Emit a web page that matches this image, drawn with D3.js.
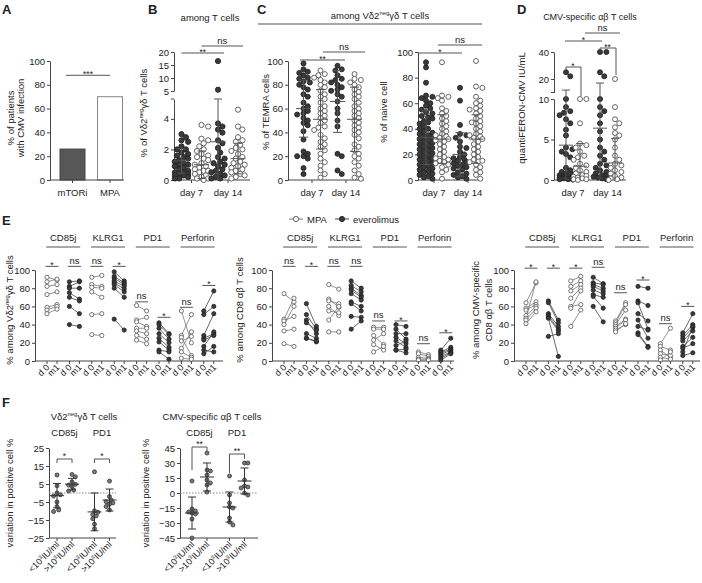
<!DOCTYPE html>
<html><head><meta charset="utf-8">
<script src="https://cdn.jsdelivr.net/npm/d3@7"></script>
<style>body{margin:0;background:#fff}</style>
</head><body>
<script>
// ================= DATA =================
// Panel A
const aCategories = ["mTORi", "MPA"];
const aValues = [26, 70];
const aTicks = [0, 20, 40, 60, 80, 100];

// Panel B (% of Vd2neg gd T cells among T cells)
const dayLabels = ["day 7", "day 14"];
const bEveroD7 = [3.0,2.8,2.6,2.5,2.2,2.0,2.0,1.8,1.7,1.6,1.5,1.4,1.3,1.2,1.1,1.0,1.0,0.9,0.8,0.7,0.6,0.5,0.5,0.4,0.4,0.3,0.3,0.2,0.1,0.1];
const bMpaD7 = [3.6,3.5,2.7,2.6,2.4,2.2,2.0,1.9,1.7,1.6,1.5,1.4,1.3,1.1,1.0,0.9,0.8,0.7,0.6,0.6,0.5,0.4,0.3,0.2,0.1,0.1,0.0];
const bEveroD14 = [16.5,5.5,3.7,3.5,3.3,3.1,2.6,2.4,2.1,1.8,1.5,1.4,1.2,1.1,1.0,0.9,0.7,0.6,0.5,0.4,0.3,0.2,0.1,0.1];
const bMpaD14 = [4.6,3.5,3.3,2.8,2.6,2.5,2.3,2.1,2.0,1.9,1.7,1.5,1.4,1.2,1.1,1.0,0.9,0.8,0.7,0.6,0.5,0.4,0.3,0.2,0.1];
const bMean = [1.25, 1.0, 2.5, 1.4];
const bSd = [0.8, 0.9, 2.8, 1.0];
const bTicksLow = [0, 2, 4];
const bTicksHigh = [5, 10, 15, 20];

// Panel C (TEMRA / naive among Vd2neg gd T cells)
const cTemraEveroD7 = [98,93,91,90,88,86,85,83,82,80,78,76,72,70,65,62,60,58,56,55,52,50,48,46,41,34,24,22,20,20,18,10,5];
const cTemraMpaD7 = [92,89,88,86,84,82,80,78,75,72,70,68,65,62,60,58,56,54,52,50,48,45,44,42,38,35,32,30,28,25,22,18,15,12,8,5,2];
const cTemraEveroD14 = [96,93,92,88,85,84,82,80,78,76,75,72,70,66,60,56,50,45,22,20,8,5];
const cTemraMpaD14 = [89,85,84,82,80,78,76,74,72,70,68,65,62,60,58,56,54,52,50,48,46,44,42,40,38,35,30,28,25,22,20,18,15,12,8,5,2,1];
const cTemraMean = [60, 51, 66, 51];
const cTemraSd = [24, 25, 26, 27];
const cNaiveEveroD7 = [92,88,76,66,65,64,62,60,58,56,55,53,52,50,49,48,46,45,44,42,40,40,38,37,36,35,34,33,32,31,30,29,28,27,26,25,24,23,22,21,20,19,18,17,16,15,14,13,12,11,10,9,8,7,6,5,4,3,2,1];
const cNaiveMpaD7 = [92,66,65,64,62,56,54,52,50,48,46,44,42,40,38,36,35,34,33,32,31,30,28,26,24,22,20,18,17,16,15,14,13,12,10,8,6,1];
const cNaiveEveroD14 = [72,62,43,36,35,33,30,26,25,22,20,18,17,16,15,14,13,12,11,10,9,8,6,5,4,3,2,1];
const cNaiveMpaD14 = [93,73,72,65,62,60,58,56,55,54,52,50,48,46,45,44,42,40,38,36,35,34,33,32,30,28,26,24,22,20,18,16,15,14,12,10,8,6,4,1];
const cNaiveMean = [33, 32, 20, 32];
const cNaiveSd = [21, 19, 17, 19];
const pctTicks = [0, 20, 40, 60, 80, 100];

// Panel D (quantiFERON-CMV IU/mL)
const dEveroD7 = [25,22,10,9,8.5,8.3,8,7.5,7,6.2,5.5,4,3.8,3.5,3.2,2.8,1.5,1.2,1.0,0.8,0.7,0.6,0.5,0.4,0.3,0.3,0.2,0.2,0.1,0.1,0.1];
const dMpaD7 = [10,10,7,4.5,4.3,4,3.5,3,2.8,2.5,2,1.8,1.5,1.2,1.0,0.8,0.6,0.5,0.4,0.3,0.2,0.1,0.1,0.0];
const dEveroD14 = [40,40,25,22,10,9,8.5,8,7,6,5,4,3.5,3,2.5,2,1.8,1.5,1.2,1.0,0.8,0.6,0.5,0.4,0.3,0.2,0.1];
const dMpaD14 = [20,9,7.5,7,6.5,5.8,5.5,5,4,3,2.5,2,1.8,1.5,1.2,1.0,0.8,0.5,0.3,0.2,0.1,0.0];
const dMean = [4.3, 1.7, 6.4, 2.1];
const dSd = [7.5, 2.8, 10.6, 3.0];
const dTicksLow = [0, 5, 10];
const dTicksHigh = [20, 40];

// Panel E (paired d0 -> m1), pairs alternate MPA / everolimus
const markers = ["CD85j", "KLRG1", "PD1", "Perforin"];
const timeLabels = ["d 0", "m1"];
const eVd2D0 = [[92,87,82,73,59,56,52],[87,82,80,75,70,60,40],[92,84,81,76,51,29],[98,93,91,88,86,84,80,46],[61,45,43,36,33,28,23],[42,40,36,30,25,21,12,10],[55,28,26,22,14,10,3],[55,51,28,25,23,16,12,8]];
const eVd2M1 = [[89,90,84,76,62,60,57],[88,87,80,68,66,52,38],[94,82,80,70,52,28],[88,86,84,82,79,76,70,34],[55,48,38,36,30,24,19],[30,29,24,20,15,12,10,2],[20,51,6,27,32,4,2],[77,60,52,30,28,32,10,16]];
const eCd8D0 = [[74,46,44,40,33,19],[63,51,45,42,30,25,25],[84,68,66,60,55,45,32],[88,83,80,78,74,65,63,49,35],[37,35,28,23,18,10],[40,35,30,26,22,17,12,12],[10,8,4,2,1],[12,10,9,7,5,3,1]];
const eCd8M1 = [[65,69,49,60,35,16],[38,35,30,34,25,21,22],[79,59,63,50,53,60,32],[80,76,72,70,67,60,55,48,44],[37,35,18,30,12,16],[38,24,30,19,15,22,13,9],[7,5,3,2,1],[25,15,13,12,10,9,8]];
const eCmvD0 = [[64,58,56,50,47,45,41],[66,64,52,50,48,47,27],[88,82,77,69,60,58,38],[92,86,84,82,78,73,71,60],[44,42,40,38,36,34,32],[82,66,64,52,45,38,31,29],[19,16,12,8,4,1],[31,28,25,22,16,14,10,6]];
const eCmvM1 = [[86,65,62,60,87,58,54],[45,42,38,35,33,5,30],[93,88,84,80,62,77,56],[85,84,80,77,74,70,58,43],[64,62,56,46,45,40,41],[80,61,35,44,25,34,16,15],[36,12,4,6,2,10],[52,40,37,33,26,19,38,9]];
const eVd2Sig = ["*","ns","ns","*","ns","*","ns","*"];
const eCd8Sig = ["ns","*","ns","ns","ns","*","ns","*"];
const eCmvSig = ["*","*","*","ns","ns","*","ns","*"];
const eVd2SigLevel = [104,104,104,104,65,48,59,83];
const eCd8SigLevel = [104,104,104,104,44,44,19,31];
const eCmvSigLevel = [102,102,102,103,75,89,41,60];

// Panel F (variation in positive cell %)
const fMarkers = ["CD85j", "PD1"];
const fGroupLabels = ["<10", ">10", "<10", ">10"];
const fVd2Values = [[10,4,0,-1,-1.7,-5,-7.5,-9.4,-10.3],[10.3,9,6.2,4.8,4.4,3.5,1.6,1.1],[11.8,-9.9,-10.7,-12,-12.7,-14.3,-17.3,-19.8],[6.6,-2,-3.9,-4.8,-5.5,-6.2,-7.5,-9.4]];
const fVd2Mean = [-1.5, 4.9, -10.5, -3.9];
const fVd2Sd = [6.8, 3.2, 10.5, 6.1];
const fVd2Ticks = [-25, -15, -5, 5, 15, 25];
const fCmvValues = [[12,-16,-18,-19,-20,-21,-26,-45],[40,23,22,18,13,10,8,1],[17,-2,-10,-14,-15,-25,-29,-32],[30,30,13,7,6,5,0,-2]];
const fCmvMean = [-20, 16, -14, 12];
const fCmvSd = [16, 14, 15, 13];
const fCmvTicks = [-45, -30, -15, 0, 15, 30, 45];

// ================= DRAWING =================
const FONT = '"Liberation Sans", Arial, Helvetica, sans-serif';
const AX = "#444", TXT = "#222", FILL = "#3a3a3a", OPEN = "#555", ERR = "#555";
const svg = d3.select("body").append("svg").attr("width", 702).attr("height", 583)
  .attr("font-family", FONT);

function label(x, y, parts, o = {}) {
  const fs = o.fs || 9.5;
  const t = svg.append("text").attr("x", x).attr("y", y).attr("font-size", fs)
    .attr("text-anchor", o.anchor || "middle").attr("fill", o.fill || TXT);
  if (o.weight) t.attr("font-weight", o.weight);
  if (o.rot != null) t.attr("transform", `rotate(${o.rot},${x},${y})`);
  if (!Array.isArray(parts)) parts = [parts];
  let sup = false;
  parts.forEach(p => {
    const isSup = typeof p === "object";
    const s = isSup ? p.t : p;
    const ts = t.append("tspan").text(s);
    if (isSup) { ts.attr("font-size", fs * 0.62); if (!sup) ts.attr("dy", -fs * 0.38); }
    else if (sup) ts.attr("dy", fs * 0.38);
    sup = isSup;
  });
  return t;
}
function line(x1, y1, x2, y2, col = AX, w = 1, dash = null) {
  const l = svg.append("line").attr("x1", x1).attr("y1", y1).attr("x2", x2).attr("y2", y2)
    .attr("stroke", col).attr("stroke-width", w);
  if (dash) l.attr("stroke-dasharray", dash);
  return l;
}
function yAxis(x, scale, ticks, fmt) {
  const g = svg.append("g").attr("transform", `translate(${x},0)`)
    .call(d3.axisLeft(scale).tickValues(ticks).tickSize(3).tickSizeOuter(0).tickPadding(2)
      .tickFormat(fmt || d3.format("")));
  g.attr("font-family", FONT).attr("font-size", 9.5);
  g.selectAll(".domain,.tick line").attr("stroke", AX).attr("stroke-width", 1);
  g.selectAll(".tick text").attr("fill", TXT);
  return g;
}
function swarm(vals, yf, r, maxOff) {
  const pts = vals.map((v, i) => ({ v, y: yf(v), i })).sort((a, b) => a.y - b.y);
  const placed = [];
  const step = r * 0.85;
  const cands = [0];
  for (let k = 1; k * step <= maxOff; k++) cands.push(k * step, -k * step);
  for (const p of pts) {
    let best = 0, bestOv = Infinity;
    for (const c of cands) {
      let ov = 0;
      for (const q of placed) {
        const d = Math.hypot(c - q.x, p.y - q.y);
        if (d < 2 * r * 0.95) ov += 2 * r - d;
      }
      if (ov === 0) { best = c; bestOv = 0; break; }
      if (ov < bestOv) { bestOv = ov; best = c; }
    }
    p.x = best; placed.push(p);
  }
  return pts;
}
function dots(vals, cx, yf, r, maxOff, filled) {
  const pts = swarm(vals, yf, r, maxOff);
  svg.append("g").selectAll("circle").data(pts).join("circle")
    .attr("cx", d => cx + d.x).attr("cy", d => d.y).attr("r", r)
    .attr("fill", filled ? FILL : "#fff").attr("stroke", filled ? "#222" : OPEN).attr("stroke-width", 0.9);
}
function meanSd(cx, mean, sd, yf, wm, wc, floor, col = ERR) {
  const lo = Math.max(floor, mean - sd), hi = mean + sd;
  line(cx, yf(lo), cx, yf(hi), col, 1);
  line(cx - wc / 2, yf(hi), cx + wc / 2, yf(hi), col, 1);
  if (mean - sd > floor) line(cx - wc / 2, yf(lo), cx + wc / 2, yf(lo), col, 1);
  line(cx - wm / 2, yf(mean), cx + wm / 2, yf(mean), col, 1);
}
function sig(x1, x2, y, lab) {
  line(x1, y, x2, y, "#555", 1);
  const star = lab.includes("*");
  label((x1 + x2) / 2, star ? y + 1.8 : y - 2.5, lab, { fs: star ? 8.5 : 9.5 });
}
function xCatAxis(x0, x1, y, xs, cats, labY) {
  line(x0, y, x1, y, AX, 1);
  cats.forEach(c => { line(xs(c), y, xs(c), y + 3, AX, 1); label(xs(c), labY, c); });
}
const VD2 = ["Vδ2", { t: "neg" }, "γδ T cells"];

// ---------- Panel letters ----------
label(2, 14, "A", { fs: 13, weight: "bold", anchor: "start" });
label(148, 14, "B", { fs: 13, weight: "bold", anchor: "start" });
label(257, 14, "C", { fs: 13, weight: "bold", anchor: "start" });
label(517, 14, "D", { fs: 13, weight: "bold", anchor: "start" });
label(2, 225, "E", { fs: 13, weight: "bold", anchor: "start" });
label(2, 407, "F", { fs: 13, weight: "bold", anchor: "start" });

// ---------- Panel A ----------
{
  const y = d3.scaleLinear().domain([0, 100]).range([180, 61]);
  const x = d3.scaleBand().domain(aCategories).range([50, 132.5]).paddingInner(1 / 3).paddingOuter(0.267);
  svg.append("g").selectAll("rect").data(aCategories).join("rect")
    .attr("x", d => x(d)).attr("width", x.bandwidth())
    .attr("y", (d, i) => y(aValues[i])).attr("height", (d, i) => y(0) - y(aValues[i]))
    .attr("fill", (d, i) => i === 0 ? "#575757" : "#fff")
    .attr("stroke", (d, i) => i === 0 ? "#444" : "#888").attr("stroke-width", 1);
  yAxis(50, y, aTicks);
  line(50, 180, 124, 180, AX, 1);
  aCategories.forEach(c => {
    const cx = x(c) + x.bandwidth() / 2;
    line(cx, 180, cx, 183, AX, 1);
    label(cx, 196, c);
  });
  sig(x(aCategories[0]) + 6, x(aCategories[1]) + x.bandwidth() / 2, y(88), "***");
  label(13.5, 118, "% of patients", { rot: -90 });
  label(24, 118, "with CMV infection", { rot: -90 });
}

// ---------- Panel B ----------
{
  const lo = d3.scaleLinear().domain([0, 5.3]).range([180, 99]);
  const hi = d3.scaleLinear().domain([5, 20]).range([91, 52]);
  const yf = v => v <= 5.3 ? lo(v) : hi(v);
  const xs = d3.scalePoint().domain(dayLabels).range([191.5, 228]);
  yAxis(174, lo, bTicksLow);
  yAxis(174, hi, bTicksHigh);
  line(171, 99, 174, 99, AX, 1);
  xCatAxis(174, 250, 180, xs, dayLabels, 196);
  const groups = [[bEveroD7, 0, -10, true], [bMpaD7, 0, 10, false], [bEveroD14, 1, -10, true], [bMpaD14, 1, 10, false]];
  groups.forEach(([vals, di, off, f], gi) => {
    const cx = xs(dayLabels[di]) + off;
    dots(vals, cx, yf, 2.6, 8, f);
    meanSd(cx, bMean[gi], bSd[gi], yf, 15, 8, 0);
  });
  sig(xs(dayLabels[0]) - 10, xs(dayLabels[1]) - 4, 53, "**");
  sig(xs(dayLabels[0]) + 10, xs(dayLabels[1]) + 15, 46, "ns");
  label(210, 21, "among T cells");
  label(147, 113, ["% of ", ...VD2], { rot: -90 });
}

// ---------- Panel C ----------
{
  label(380, 19, ["among ", ...VD2]);
  line(258, 24, 482, 24, "#555", 1);
  // TEMRA
  const y1 = d3.scaleLinear().domain([0, 100]).range([180, 61]);
  const xs1 = d3.scalePoint().domain(dayLabels).range([312, 346]);
  yAxis(288, y1, pctTicks);
  xCatAxis(288, 364, 180, xs1, dayLabels, 196);
  [[cTemraEveroD7, 0, -8.5, true], [cTemraMpaD7, 0, 8.5, false], [cTemraEveroD14, 1, -8.5, true], [cTemraMpaD14, 1, 8.5, false]]
    .forEach(([vals, di, off, f], gi) => {
      const cx = xs1(dayLabels[di]) + off;
      dots(vals, cx, y1, 2.5, 7, f);
      meanSd(cx, cTemraMean[gi], cTemraSd[gi], y1, 15, 9, 0);
    });
  sig(300, 345, 60, "**");
  sig(323, 365, 52, "ns");
  label(269, 112, "% of TEMRA cells", { rot: -90 });
  // naive
  const y2 = d3.scaleLinear().domain([0, 100]).range([180, 52]);
  const xs2 = d3.scalePoint().domain(dayLabels).range([434, 468]);
  yAxis(418, y2, pctTicks);
  xCatAxis(418, 483, 180, xs2, dayLabels, 196);
  [[cNaiveEveroD7, 0, -8, true], [cNaiveMpaD7, 0, 8, false], [cNaiveEveroD14, 1, -8, true], [cNaiveMpaD14, 1, 8, false]]
    .forEach(([vals, di, off, f], gi) => {
      const cx = xs2(dayLabels[di]) + off;
      dots(vals, cx, y2, 2.5, 7, f);
      meanSd(cx, cNaiveMean[gi], cNaiveSd[gi], y2, 15, 9, 0);
    });
  sig(418, 462, 53, "*");
  sig(438, 482, 45, "ns");
  label(387, 112, "% of naive cell", { rot: -90 });
}

// ---------- Panel D ----------
{
  const lo = d3.scaleLinear().domain([0, 10]).range([180, 99]);
  const hi = d3.scaleLinear().domain([10, 40]).range([92.5, 52]);
  const yf = v => v <= 10 ? lo(v) : hi(v);
  const xs = d3.scalePoint().domain(dayLabels).range([573, 607.5]);
  yAxis(554, lo, dTicksLow);
  yAxis(554, hi, dTicksHigh);
  line(551, 92.5, 554, 92.5, AX, 1);
  xCatAxis(554, 626, 180, xs, dayLabels, 196);
  const cx = [xs(dayLabels[0]) - 7, xs(dayLabels[0]) + 7, xs(dayLabels[1]) - 7.5, xs(dayLabels[1]) + 7.5];
  [dEveroD7, dMpaD7, dEveroD14, dMpaD14].forEach((vals, gi) => {
    dots(vals, cx[gi], yf, 2.5, 7, gi % 2 === 0);
    meanSd(cx[gi], dMean[gi], dSd[gi], yf, 14, 8, 0);
  });
  // brackets
  line(cx[0], 67, cx[1] + 1, 67, "#555"); line(cx[0], 67, cx[0], 70, "#555"); line(cx[1] + 1, 67, cx[1] + 1, 96, "#555");
  label((cx[0] + cx[1]) / 2, 67 + 1.8, "*", { fs: 8.5 });
  line(cx[2], 48, cx[3] + 1, 48, "#555"); line(cx[2], 48, cx[2], 50, "#555"); line(cx[3] + 1, 48, cx[3] + 1, 75, "#555");
  label((cx[2] + cx[3]) / 2, 48 + 1.8, "**", { fs: 8.5 });
  sig(565, 602, 41, "*");
  sig(585, 620, 33, "ns");
  label(590, 19.5, "CMV-specific αβ T cells", { fs: 9 });
  label(525, 108, "quantiFERON-CMV IU/mL", { rot: -90 });
}

// ---------- Panel E ----------
function panelE(x0, xEnd, D0, M1, sigLab, sigLev, yLabelLines) {
  const y = d3.scaleLinear().domain([0, 100]).range([361, 270]);
  const xs = d3.scalePoint().domain(d3.range(8)).range([x0 + 17, x0 + 17 + 22.4 * 7]);
  yAxis(x0, y, pctTicks);
  line(x0, 361, xEnd, 361, AX, 1);
  // headers
  markers.forEach((m, k) => {
    const c = (xs(2 * k) + xs(2 * k + 1)) / 2;
    label(c, 241, m);
    line(c - 17, 247, c + 17, 247, "#555", 1);
  });
  D0.forEach((d0, p) => {
    const c = xs(p), xa = c - 5, xb = c + 5;
    const filled = p % 2 === 1;
    const g = svg.append("g");
    g.selectAll("line").data(d0).join("line")
      .attr("x1", xa).attr("x2", xb).attr("y1", d => y(d)).attr("y2", (d, i) => y(M1[p][i]))
      .attr("stroke", filled ? "#444" : "#777").attr("stroke-width", 0.8);
    [[d0, xa], [M1[p], xb]].forEach(([vals, xx]) => {
      g.append("g").selectAll("circle").data(vals).join("circle")
        .attr("cx", xx).attr("cy", d => y(d)).attr("r", 2.1)
        .attr("fill", filled ? FILL : "#fff").attr("stroke", filled ? "#222" : OPEN).attr("stroke-width", 0.8);
    });
    [xa, xb].forEach((xx, j) => {
      line(xx, 361, xx, 364, AX, 1);
      label(xx + 3, 368, timeLabels[j], { anchor: "end", rot: -45, fs: 9 });
    });
    sig(xa - 1.5, xb + 1.5, y(sigLev[p]), sigLab[p]);
  });
  yLabelLines.forEach(([lx, parts]) => label(lx, 310, parts, { rot: -90 }));
}
panelE(35, 223, eVd2D0, eVd2M1, eVd2Sig, eVd2SigLevel, [[13, ["% among ", ...VD2]]]);
panelE(272, 454, eCd8D0, eCd8M1, eCd8Sig, eCd8SigLevel, [[243, "% among CD8 αβ T cells"]]);
panelE(514, 700, eCmvD0, eCmvM1, eCmvSig, eCmvSigLevel, [[479, "% among CMV-specific"], [492, "CD8 αβ T cells"]]);

// legend
line(289, 219, 303, 219, "#777", 1);
svg.append("circle").attr("cx", 296).attr("cy", 219).attr("r", 2.6).attr("fill", "#fff").attr("stroke", OPEN).attr("stroke-width", 0.9);
label(307, 222.5, "MPA", { anchor: "start" });
line(335, 219, 349, 219, "#444", 1);
svg.append("circle").attr("cx", 342).attr("cy", 219).attr("r", 2.6).attr("fill", FILL).attr("stroke", "#222").attr("stroke-width", 0.9);
label(353, 222.5, "everolimus", { anchor: "start" });

// ---------- Panel F ----------
function panelF(x0, xEnd, first, dom, ticks, values, means, sds, title, titleX, brackets, yLabX) {
  const y = d3.scaleLinear().domain(dom).range([538, 448]);
  const xs = d3.scaleLinear().domain([0, 1]).range([first, first + 15]);
  const slots = [0, 1, 2.5, 3.5];
  yAxis(x0, y, ticks);
  line(x0, 538, xEnd, 538, AX, 1);
  line(x0, y(0), xEnd, y(0), "#888", 1, "1.5,1.5");
  values.forEach((vals, g) => {
    const cx = xs(slots[g]);
    const pts = swarm(vals, y, 2, 5);
    svg.append("g").selectAll("circle").data(pts).join("circle")
      .attr("cx", d => cx + d.x).attr("cy", d => d.y).attr("r", 2)
      .attr("fill", "#7a7a7a").attr("stroke", "#333").attr("stroke-width", 0.8);
    meanSd(cx, means[g], sds[g], y, 14, 8, -Infinity, "#333");
    line(cx, 538, cx, 541, AX, 1);
    label(cx + 3, 545, [fGroupLabels[g], { t: "3" }, "IU/ml"], { anchor: "end", rot: -45, fs: 9 });
  });
  fMarkers.forEach((m, k) => label((xs(slots[2 * k]) + xs(slots[2 * k + 1])) / 2, 436, m));
  label(titleX, 420, title);
  brackets.forEach(([k, yTop, yL, yR, lab]) => {
    const a = xs(slots[2 * k]), b = xs(slots[2 * k + 1]);
    line(a, yTop, b, yTop, "#555"); line(a, yTop, a, yL, "#555"); line(b, yTop, b, yR, "#555");
    label((a + b) / 2, yTop, lab, { fs: 8.5 });
  });
  label(yLabX, 493, "variation in positive cell %", { rot: -90 });
}
panelF(49, 116, 57, [-25, 25], fVd2Ticks, fVd2Values, fVd2Mean, fVd2Sd, VD2, 84,
  [[0, 459, 463, 463, "*"], [1, 459, 463, 463, "*"]], 13);
panelF(180, 258, 192, [-45, 45], fCmvTicks, fCmvValues, fCmvMean, fCmvSd, "CMV-specific αβ T cells", 212,
  [[0, 447, 470, 451, "**"], [1, 454, 473, 459, "**"]], 149);
</script>
</body></html>
